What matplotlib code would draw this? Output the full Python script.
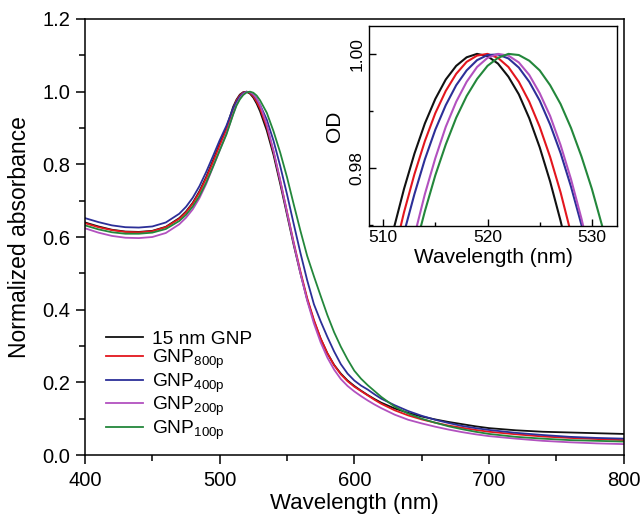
import matplotlib
matplotlib.use('Agg')
import matplotlib.pyplot as plt
from matplotlib.ticker import MultipleLocator

plt.rcParams['font.family'] = ['Liberation Sans', 'DejaVu Sans']
plt.rcParams['mathtext.fontset'] = 'custom'
plt.rcParams['mathtext.rm'] = 'Liberation Sans'

# main spectra (normalized absorbance)
wl = [400, 410, 420, 430, 440, 450, 460, 470, 475, 480, 485, 490, 495, 500, 505, 510, 512.5, 515,
      517.5, 520, 522.5, 525, 527.5, 530, 535, 540, 545, 550, 555, 560, 565, 570, 575, 580, 585,
      590, 595, 600, 605, 610, 615, 620, 630, 640, 650, 660, 670, 680, 690, 700, 720, 740, 760,
      780, 800]

gnp15 = [0.640, 0.629, 0.620, 0.615, 0.614, 0.617, 0.628, 0.652, 0.670, 0.694, 0.726, 0.765, 0.810,
         0.856, 0.900, 0.958, 0.978, 0.992, 0.9986, 0.9996, 0.9946, 0.9836, 0.967, 0.946, 0.893,
         0.826, 0.746, 0.662, 0.578, 0.500, 0.428, 0.369, 0.320, 0.280, 0.248, 0.224, 0.205, 0.190,
         0.177, 0.165, 0.154, 0.144, 0.128, 0.116, 0.106, 0.098, 0.091, 0.085, 0.079, 0.074, 0.068,
         0.064, 0.062, 0.060, 0.058]

gnp800 = [0.638, 0.627, 0.619, 0.614, 0.613, 0.616, 0.627, 0.650, 0.668, 0.692, 0.723, 0.762, 0.806,
          0.852, 0.895, 0.952, 0.9757, 0.9896, 0.9977, 1.000, 0.9965, 0.9872, 0.9722, 0.954, 0.903,
          0.835, 0.755, 0.670, 0.585, 0.505, 0.432, 0.372, 0.321, 0.280, 0.247, 0.222, 0.203, 0.188,
          0.176, 0.164, 0.152, 0.141, 0.123, 0.109, 0.098, 0.089, 0.081, 0.075, 0.069, 0.064, 0.057,
          0.051, 0.047, 0.044, 0.041]

gnp400 = [0.652, 0.641, 0.632, 0.627, 0.626, 0.629, 0.640, 0.664, 0.683, 0.708, 0.740, 0.779, 0.822,
          0.866, 0.906, 0.954, 0.9721, 0.9867, 0.9959, 0.9998, 0.9985, 0.9918, 0.9798, 0.964, 0.923,
          0.865, 0.795, 0.718, 0.636, 0.556, 0.481, 0.415, 0.368, 0.325, 0.285, 0.250, 0.224, 0.205,
          0.191, 0.180, 0.167, 0.155, 0.137, 0.121, 0.108, 0.097, 0.088, 0.080, 0.074, 0.069, 0.061,
          0.055, 0.050, 0.047, 0.045]

gnp200 = [0.624, 0.612, 0.603, 0.598, 0.597, 0.600, 0.611, 0.635, 0.653, 0.676, 0.707, 0.746, 0.792,
          0.838, 0.884, 0.938, 0.964, 0.9817, 0.9935, 0.9993, 0.9992, 0.9931, 0.9811, 0.964, 0.910,
          0.837, 0.755, 0.668, 0.582, 0.500, 0.425, 0.362, 0.310, 0.268, 0.235, 0.209, 0.190, 0.175,
          0.162, 0.150, 0.139, 0.129, 0.111, 0.097, 0.087, 0.078, 0.070, 0.063, 0.057, 0.052, 0.045,
          0.039, 0.035, 0.032, 0.030]

gnp100 = [0.632, 0.621, 0.613, 0.609, 0.609, 0.612, 0.622, 0.644, 0.661, 0.684, 0.713, 0.750, 0.793,
          0.838, 0.882, 0.937, 0.9616, 0.9787, 0.9908, 0.9979, 1.000, 0.9971, 0.9892, 0.9763, 0.942,
          0.891, 0.832, 0.765, 0.690, 0.617, 0.548, 0.492, 0.438, 0.385, 0.338, 0.298, 0.263, 0.232,
          0.210, 0.192, 0.176, 0.160, 0.133, 0.114, 0.100, 0.089, 0.079, 0.071, 0.064, 0.058, 0.050,
          0.045, 0.041, 0.039, 0.037]

# inset: peak region
wl_in = [510, 511, 512, 513, 514, 515, 516, 517, 518, 519, 520, 521, 522, 523, 524, 525, 526, 527,
         528, 529, 530, 531, 532]
in15 = [0.9611, 0.9692, 0.9763, 0.9825, 0.9878, 0.9921, 0.9955, 0.9979, 0.9994, 1.0000, 0.9996,
        0.9983, 0.9960, 0.9929, 0.9887, 0.9836, 0.9776, 0.9707, 0.9628, 0.9539, 0.9441, 0.9334, 0.9218]
in800 = [0.9560, 0.9645, 0.9722, 0.9789, 0.9847, 0.9896, 0.9935, 0.9965, 0.9986, 0.9997, 1.0000,
         0.9993, 0.9977, 0.9951, 0.9916, 0.9872, 0.9819, 0.9757, 0.9685, 0.9604, 0.9514, 0.9414, 0.9305]
in400 = [0.9522, 0.9608, 0.9686, 0.9754, 0.9815, 0.9867, 0.9910, 0.9945, 0.9971, 0.9989, 0.9998,
         0.9999, 0.9992, 0.9976, 0.9951, 0.9918, 0.9876, 0.9826, 0.9767, 0.9700, 0.9624, 0.9540, 0.9448]
in200 = [0.9404, 0.9506, 0.9598, 0.9681, 0.9754, 0.9817, 0.9872, 0.9916, 0.9951, 0.9977, 0.9993,
         1.0000, 0.9997, 0.9985, 0.9963, 0.9931, 0.9891, 0.9840, 0.9780, 0.9711, 0.9632, 0.9544, 0.9446]
in100 = [0.9395, 0.9489, 0.9576, 0.9654, 0.9724, 0.9787, 0.9841, 0.9888, 0.9926, 0.9956, 0.9979,
         0.9993, 1.0000, 0.9998, 0.9988, 0.9971, 0.9945, 0.9912, 0.9870, 0.9820, 0.9763, 0.9697, 0.9624]

labels = ['15 nm GNP', r'GNP$_{\mathregular{800p}}$', r'GNP$_{\mathregular{400p}}$',
          r'GNP$_{\mathregular{200p}}$', r'GNP$_{\mathregular{100p}}$']
colors = ['#111111', '#e3161e', '#2c2f98', '#b251bf', '#23873b']

fig = plt.figure(figsize=(6.4, 5.19), dpi=100)
ax = fig.add_axes([0.1328, 0.1233, 0.8416, 0.8401])

main = [gnp15, gnp800, gnp400, gnp200, gnp100]
for ys, c, lab in zip(main, colors, labels):
    ax.plot(wl, ys, color=c, lw=1.3, label=lab)

ax.set_xlim(400, 800)
ax.set_ylim(0, 1.2)
ax.xaxis.set_major_locator(MultipleLocator(100))
ax.xaxis.set_minor_locator(MultipleLocator(50))
ax.yaxis.set_major_locator(MultipleLocator(0.2))
ax.yaxis.set_minor_locator(MultipleLocator(0.1))
ax.yaxis.set_major_formatter(plt.FuncFormatter(lambda v, p: f'{v:.1f}'))
ax.tick_params(which='both', direction='out', top=False, right=False, labelsize=14.5, width=1.1)
ax.tick_params(which='major', length=6.5, pad=4)
ax.tick_params(axis='x', which='major', pad=5)
ax.tick_params(which='minor', length=4)
for s in ax.spines.values():
    s.set_linewidth(1.1)
ax.set_xlabel('Wavelength (nm)', fontsize=16, labelpad=2.5)
ax.set_ylabel('Normalized absorbance', fontsize=16.5, labelpad=8)

leg = ax.legend(loc='lower left', bbox_to_anchor=(0.039, 0.03), frameon=False, fontsize=13.8,
                handlelength=1.95, handletextpad=0.47, labelspacing=0.0, borderaxespad=0,
                borderpad=0)

# inset
axi = fig.add_axes([0.5766, 0.5645, 0.3874, 0.3855])
inset = [in15, in800, in400, in200, in100]
for ys, c in zip(inset, colors):
    axi.plot(wl_in, ys, color=c, lw=1.5)
axi.set_xlim(508.65, 532.4)
axi.set_ylim(0.9698, 1.0049)
axi.xaxis.set_major_locator(MultipleLocator(10))
axi.xaxis.set_minor_locator(MultipleLocator(5))
axi.yaxis.set_major_locator(MultipleLocator(0.02))
axi.yaxis.set_minor_locator(MultipleLocator(0.01))
axi.yaxis.set_major_formatter(plt.FuncFormatter(lambda v, p: f'{v:.2f}'))
axi.tick_params(which='both', direction='in', top=False, right=False, labelsize=12.5, width=1.0)
axi.tick_params(which='major', length=5, pad=3)
axi.tick_params(which='minor', length=3)
for t in axi.get_yticklabels():
    t.set_rotation(90)
    t.set_va('center')
for s in axi.spines.values():
    s.set_linewidth(1.0)
axi.set_xlabel('Wavelength (nm)', fontsize=15, labelpad=2)
axi.set_ylabel('OD', fontsize=15, labelpad=4)

fig.savefig('out.png', dpi=100)
